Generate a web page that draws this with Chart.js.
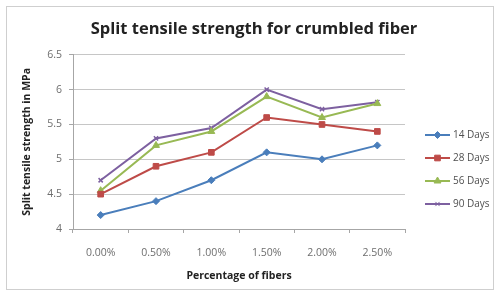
<!DOCTYPE html>
<html>
<head>
<meta charset="UTF-8">
<script src="https://cdn.jsdelivr.net/npm/chart.js@4"></script>
<style>
  body { margin: 0; background: #fff; }
  #wrap { position: relative; width: 500px; height: 297px; }
  #frame { position: absolute; left: 6px; top: 6px; width: 488px; height: 284px; border: 1px solid #cfcfcf; box-sizing: border-box; pointer-events: none; }
</style>
</head>
<body>
<div id="wrap">
  <canvas id="chart" width="500" height="297"></canvas>
  <div id="frame"></div>
</div>
<script>
// Datos
const categories = ['0.00%', '0.50%', '1.00%', '1.50%', '2.00%', '2.50%'];
const days14 = [4.2, 4.4, 4.7, 5.1, 5.0, 5.2];
const days28 = [4.5, 4.9, 5.1, 5.6, 5.5, 5.4];
const days56 = [4.55, 5.2, 5.4, 5.9, 5.6, 5.8];
const days90 = [4.7, 5.3, 5.45, 6.0, 5.72, 5.82];
const seriesNames = ['14 Days', '28 Days', '56 Days', '90 Days'];
const yTicks = [4, 4.5, 5, 5.5, 6, 6.5];

const font = "'Open Sans', Lato, sans-serif";

function serie(label, data, color, style, radius) {
  return {
    label: label,
    data: data,
    borderColor: color,
    backgroundColor: color,
    borderWidth: 2,
    pointStyle: style,
    pointRadius: radius,
    pointBorderWidth: style === 'crossRot' ? 1.5 : 1,
    tension: 0
  };
}

// Leyenda propia (linea + marcador), como en Excel
const legendPlugin = {
  id: 'excelLegend',
  afterDraw(chart) {
    const ctx = chart.ctx;
    const x0 = 425, y0 = 135, step = 23;
    chart.data.datasets.forEach((ds, i) => {
      const y = y0 + i * step;
      ctx.save();
      ctx.strokeStyle = ds.borderColor;
      ctx.fillStyle = ds.backgroundColor;
      ctx.lineWidth = 2;
      ctx.beginPath();
      ctx.moveTo(x0, y);
      ctx.lineTo(x0 + 25, y);
      ctx.stroke();
      ctx.lineWidth = 1;
      Chart.helpers.drawPoint(ctx, {
        pointStyle: ds.pointStyle, radius: ds.pointRadius, borderWidth: 1, rotation: 0
      }, x0 + 12.5, y);
      ctx.fillStyle = '#505050';
      ctx.font = '10px ' + font;
      ctx.textBaseline = 'middle';
      ctx.fillText(ds.label, x0 + 28, y + 0.5);
      ctx.restore();
    });
  }
};

const ctx = document.getElementById('chart').getContext('2d');
new Chart(ctx, {
  type: 'line',
  data: {
    labels: categories,
    datasets: [
      serie(seriesNames[0], days14, '#4a7ebb', 'rectRot', 3.5),
      serie(seriesNames[1], days28, '#be4b48', 'rect', 4),
      serie(seriesNames[2], days56, '#98b954', 'triangle', 4),
      serie(seriesNames[3], days90, '#7d60a0', 'crossRot', 3)
    ]
  },
  options: {
    responsive: false,
    animation: false,
    layout: { padding: { left: 18, right: 10, top: 9, bottom: 14 } },
    plugins: {
      legend: { display: false },
      tooltip: { enabled: false },
      title: {
        display: true,
        text: 'Split tensile strength for crumbled fiber',
        color: '#222',
        font: { family: font, size: 16.5, weight: 'bold' },
        padding: { top: 10, bottom: 16 }
      }
    },
    scales: {
      x: {
        offset: true,
        afterFit: (s) => { s.height = 54; },
        grid: { offset: true, drawOnChartArea: false, drawTicks: true, tickLength: 4, color: '#a6a6a6' },
        border: { color: '#a6a6a6' },
        ticks: { color: '#6e6e6e', font: { family: font, size: 10.5 }, padding: 14, maxRotation: 0 },
        title: {
          display: true, text: 'Percentage of fibers', color: '#222',
          font: { family: font, size: 10.5, weight: 'bold' }, padding: { top: 0, bottom: 1 }
        }
      },
      y: {
        min: 4, max: 6.5,
        afterFit: (s) => { s.width = 55; },
        afterBuildTicks: (s) => { s.ticks = yTicks.map(v => ({ value: v })); },
        grid: { color: '#c6c6c6', tickLength: 4, tickColor: '#a6a6a6' },
        border: { color: '#a6a6a6' },
        ticks: {
          color: '#6e6e6e', font: { family: font, size: 10.5 }, padding: 7,
          callback: (v) => String(v)
        },
        title: {
          display: true, text: 'Split tensile strength in MPa', color: '#222',
          font: { family: font, size: 10.5, weight: 'bold' }, padding: { top: 3, bottom: 0 }
        }
      },
      // espacio reservado para la leyenda a la derecha
      legendSpace: {
        type: 'linear', position: 'right', display: true,
        afterFit: (s) => { s.width = 85; },
        grid: { display: false, drawTicks: false },
        border: { display: false },
        ticks: { display: false }
      }
    }
  },
  plugins: [legendPlugin]
});
</script>
</body>
</html>
